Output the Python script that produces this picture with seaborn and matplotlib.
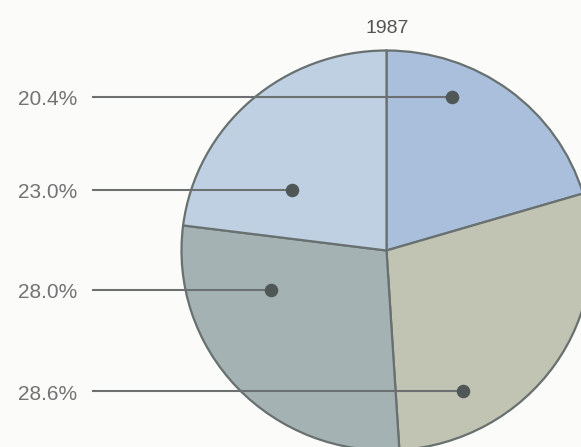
import matplotlib
matplotlib.use("Agg")
import matplotlib.pyplot as plt
import seaborn as sns
import numpy as np

# ---- data ----
title = "1987"
labels = ["20.4%", "28.6%", "28.0%", "23.0%"]
shares = [20.4, 28.6, 28.0, 23.0]
colors = ["#a9bfdc", "#c1c3b3", "#a4b2b4", "#c0d0e3"]

# ---- layout (annotation rows, left to right anchor of leader dots) ----
# order of rows top->bottom corresponds to slices: 20.4, 23.0, 28.0, 28.6
row_order = [0, 3, 2, 1]
row_y = [0.769, 0.3025, -0.1975, -0.7025]
dot_x = [0.321, -0.462, -0.565, 0.372]
line_start_x = -1.437
label_right_x = -1.510

sns.set_theme(style="white")
plt.rcParams["font.family"] = ["Liberation Sans", "DejaVu Sans"]

fig = plt.figure(figsize=(5.81, 4.47), dpi=100)
fig.patch.set_facecolor("#fbfbfa")
ax = fig.add_axes([0, 0, 1, 1])
ax.set_facecolor("#fbfbfa")

ax.pie(shares, startangle=90, counterclock=False, colors=colors,
       radius=1.0, center=(0, 0),
       wedgeprops=dict(edgecolor="#687070", linewidth=1.6))

for k, idx in enumerate(row_order):
    y = row_y[k]
    ax.plot([line_start_x, dot_x[k]], [y, y], color="#6c7070", lw=1.5,
            solid_capstyle="butt", zorder=5)
    ax.scatter([dot_x[k]], [y], s=95, color="#4f5757", zorder=6, linewidths=0)
    ax.text(label_right_x, y - 0.015, labels[idx], ha="right", va="center",
            fontsize=15, color="#737373")

ax.text(0.005, 1.112, title, ha="center", va="center", fontsize=14,
        color="#555555")

ax.set_xlim(-386.5 / 205, (581 - 386.5) / 205)
ax.set_ylim(-(447 - 250.5) / 200, 250.5 / 200)
ax.set_aspect("auto")
ax.axis("off")

fig.savefig("out.png", dpi=100, facecolor=fig.get_facecolor())
